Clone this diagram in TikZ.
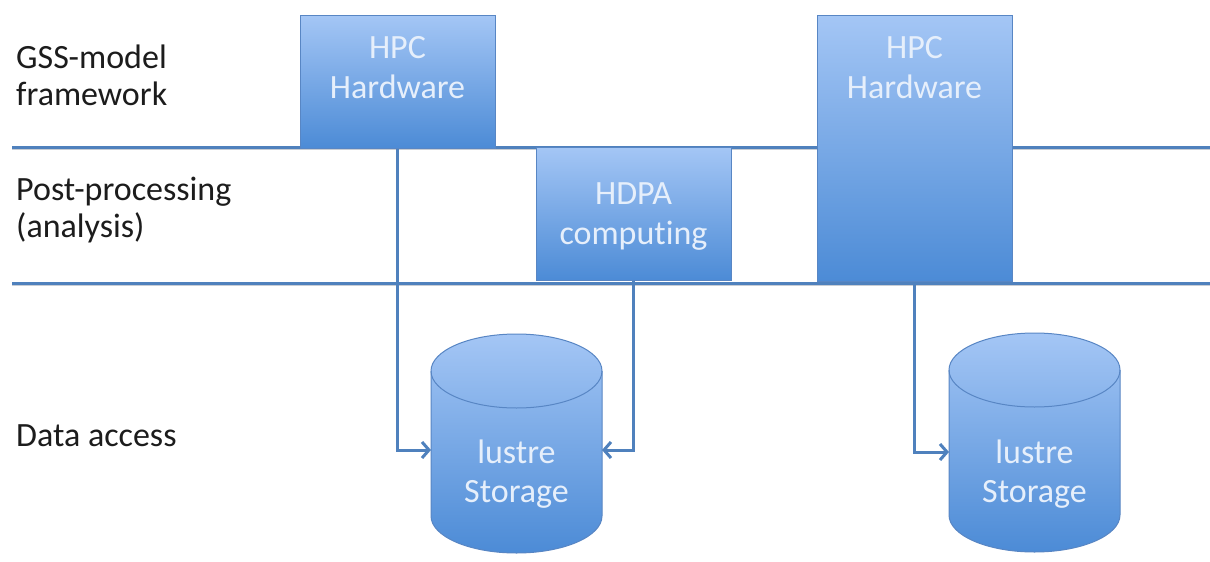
\documentclass[tikz,border=0pt]{standalone}
\usepackage{fontspec}
\setmainfont{Carlito}[Ligatures=NoCommon]
\usetikzlibrary{arrows.meta}

\definecolor{rule}{RGB}{79,129,189}
\definecolor{ruleshade}{RGB}{200,205,212}
\definecolor{boxtop}{RGB}{164,198,245}
\definecolor{boxbot}{RGB}{76,139,214}
\definecolor{boxedge}{RGB}{88,134,196}
\definecolor{boxtext}{RGB}{230,239,251}
\definecolor{labeltext}{RGB}{28,28,28}

\tikzset{
  sep/.style={draw=rule, line width=3pt},
  sepshade/.style={draw=ruleshade, line width=2pt},
  unit/.style={draw=boxedge, line width=1pt, top color=boxtop, bottom color=boxbot, inner sep=0pt},
  inbox/.style={text=boxtext, font=\fontsize{34}{40}\selectfont, align=center, inner sep=0pt, anchor=base},
  rowlabel/.style={text=labeltext, font=\fontsize{34}{37}\selectfont, align=left, inner sep=0pt, anchor=base west},
  feed/.style={draw=rule, line width=3pt, -{Straight Barb[length=7pt,width=16pt]}},
}

\begin{document}
\begin{tikzpicture}[x=1pt,y=1pt]
  \useasboundingbox (0,0) rectangle (1210,-562);
  \fill[white] (0,0) rectangle (1210,-562);

  % layer separators
  \coordinate (sepAl) at (12,-147);  \coordinate (sepAr) at (1210,-147);
  \coordinate (sepBl) at (12,-283);  \coordinate (sepBr) at (1210,-283);
  \draw[sepshade] ([yshift=-2pt]sepAl) -- ([yshift=-2pt]sepAr);
  \draw[sepshade] ([yshift=-2pt]sepBl) -- ([yshift=-2pt]sepBr);
  \draw[sep] (sepAl) -- (sepAr);
  \draw[sep] (sepBl) -- (sepBr);

  % row labels (anchored on the baseline of the last line)
  \node[rowlabel] (rowA) at (16,-105) {GSS-model\\framework};
  \node[rowlabel] (rowB) at (16,-237) {Post-processing\\(analysis)};
  \node[rowlabel] (rowC) at (16,-446) {Data access};

  % compute blocks
  \node[unit, minimum width=195pt, minimum height=133pt] (hpcA) at (397.5,-81.5) {};
  \node[inbox] (hpcAtext) at (hpcA.north |- 0,-98) {HPC\\Hardware};

  \node[unit, minimum width=195pt, minimum height=133pt] (hdpa) at (633.5,-213.5) {};
  \node[inbox] (hdpatext) at (hdpa.north |- 0,-244) {HDPA\\computing};

  \node[unit, minimum width=195pt, minimum height=266pt] (hpcB) at (914.5,-148) {};
  \node[inbox] (hpcBtext) at (hpcB.north |- 0,-98) {HPC\\Hardware};

  % storage cylinders
  \path[unit] (431,-371) -- (431,-516)
    arc[start angle=180, end angle=360, x radius=85.5, y radius=37]
    -- (602,-371)
    arc[start angle=0, end angle=180, x radius=85.5, y radius=37] -- cycle;
  \draw[boxedge, line width=1pt] (431,-371)
    arc[start angle=180, end angle=360, x radius=85.5, y radius=37];
  \node[inbox, font=\fontsize{34}{39}\selectfont] (storeAtext) at (516.5,-502) {lustre\\Storage};
  \coordinate (storeAleft) at (431,-450);
  \coordinate (storeAright) at (602,-450);

  \path[unit] (949,-370) -- (949,-515)
    arc[start angle=180, end angle=360, x radius=85.5, y radius=37]
    -- (1120,-370)
    arc[start angle=0, end angle=180, x radius=85.5, y radius=37] -- cycle;
  \draw[boxedge, line width=1pt] (949,-370)
    arc[start angle=180, end angle=360, x radius=85.5, y radius=37];
  \node[inbox, font=\fontsize{34}{39}\selectfont] (storeBtext) at (1034.5,-502) {lustre\\Storage};
  \coordinate (storeBleft) at (949,-452);

  % data flows into storage
  \draw[feed] (hpcA.south) |- (storeAleft);
  \draw[feed] (hdpa.south) |- (storeAright);
  \draw[feed] (hpcB.south) |- (storeBleft);
\end{tikzpicture}
\end{document}
